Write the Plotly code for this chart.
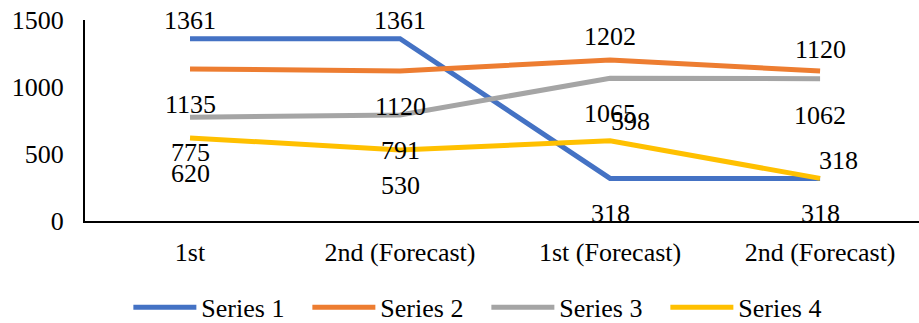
import plotly.graph_objects as go

# ---- data ----
categories = ["1st", "2nd (Forecast)", "1st (Forecast)", "2nd (Forecast) "]
tick_text = ["1st", "2nd (Forecast)", "1st (Forecast)", "2nd (Forecast)"]
series_names = ["Series 1", "Series 2", "Series 3", "Series 4"]
series_1 = [1361, 1361, 318, 318]
series_2 = [1135, 1120, 1202, 1120]
series_3 = [775, 791, 1065, 1062]
series_4 = [620, 530, 598, 318]
y_ticks = [0, 500, 1000, 1500]

# ---- styling ----
colors = ["#4472C4", "#ED7D31", "#A5A5A5", "#FFC000"]
FONT = "Liberation Serif"
FS = 26
# data label placement per point: (vertical shift px, horizontal shift px)
label_offsets = [
    [(18, 0), (18, 0), (-35, 0), (-35, 0)],
    [(-36, 0), (-36, 0), (23, 0), (21, 0)],
    [(-35, 0), (-35, 0), (-35, 0), (-37, 0)],
    [(-36, 0), (-36, 0), (19, 20), (18, 18)],
]

fig = go.Figure()
all_series = [series_1, series_2, series_3, series_4]
for name, vals, col in zip(series_names, all_series, colors):
    fig.add_trace(go.Scatter(
        x=categories, y=vals, name=name, mode="lines",
        line=dict(color=col, width=5),
    ))

annotations = []
for vals, offs in zip(all_series, label_offsets):
    for cat, v, (dy, dx) in zip(categories, vals, offs):
        annotations.append(dict(
            x=cat, y=v, xref="x", yref="y", text=str(v), showarrow=False,
            xanchor="center", yanchor="middle", yshift=dy, xshift=dx,
            font=dict(family=FONT, size=FS, color="black"),
        ))

fig.update_layout(
    width=919, height=323,
    margin=dict(l=85, r=0, t=20, b=102, autoexpand=False),
    paper_bgcolor="white", plot_bgcolor="white",
    font=dict(family=FONT, size=FS, color="black"),
    annotations=annotations,
    showlegend=True,
    legend=dict(
        orientation="h", x=0.052, xanchor="left", y=-0.43, yanchor="middle",
        font=dict(family=FONT, size=FS, color="black"),
        itemwidth=63, traceorder="normal",
        entrywidth=101, entrywidthmode="pixels",
    ),
    xaxis=dict(
        type="category", categoryorder="array", categoryarray=categories,
        tickvals=categories, ticktext=tick_text,
        range=[-0.5, 3.471], showgrid=False, zeroline=False,
        showline=True, linecolor="black", linewidth=2, ticks="",
        ticklabelstandoff=7,
        tickfont=dict(family=FONT, size=FS, color="black"),
    ),
    yaxis=dict(
        range=[0, 1500], tickvals=y_ticks, showgrid=False, zeroline=False,
        showline=True, linecolor="black", linewidth=2, ticks="",
        ticklabelstandoff=14,
        tickfont=dict(family=FONT, size=FS, color="black"),
    ),
)

fig.write_html("out.html")
